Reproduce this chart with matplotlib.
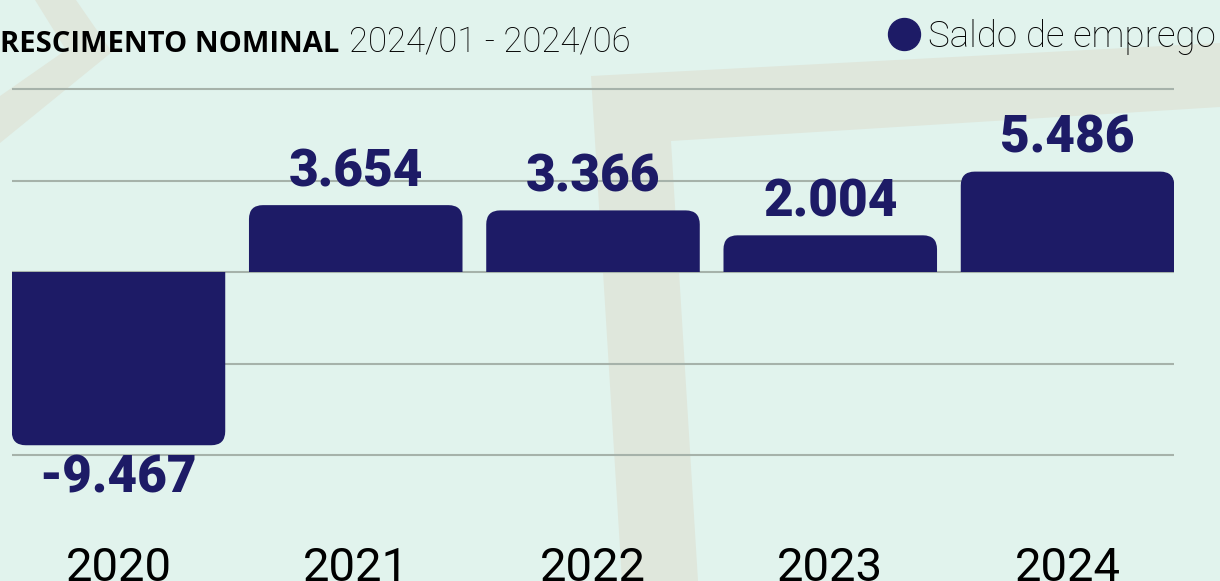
import matplotlib
matplotlib.use('agg')
import matplotlib.pyplot as plt
import numpy as np
from matplotlib.path import Path
from matplotlib.patches import PathPatch, Polygon
from matplotlib.lines import Line2D

years = ['2020', '2021', '2022', '2023', '2024']
saldo = [-9467, 3654, 3366, 2004, 5486]
labels = ['-9.467', '3.654', '3.366', '2.004', '5.486']
grid_vals = [-10000, -5000, 0, 5000, 10000]

W, H = 1220, 581
bg = '#e1f3ed'
beige = '#dfe7dc'
navy = '#1d1b66'
gridc = '#a6b2aa'

fig = plt.figure(figsize=(W / 100, H / 100), dpi=100, facecolor=bg)


def px(x, y):
	return (x / W, 1 - y / H)


# faint background shapes
band = [(591, 76), (1220, 43), (1220, 107), (671, 141), (698, 581), (622, 581)]
chev = [(35, 0), (76, 0), (112, 52), (0, 143), (0, 96), (66, 50)]
for shape in (band, chev):
	fig.add_artist(Polygon([px(*p) for p in shape], closed=True, transform=fig.transFigure,
						   facecolor=beige, edgecolor='none', zorder=-1))

# axes placed so zero sits at y=272 and 5000 ~ 91.5 px
ylo, yhi = -10500, 10500
ppu = 91.5 / 5000
top_px = 272 - yhi * ppu
bot_px = 272 - ylo * ppu
ax = fig.add_axes([11.7 / W, 1 - bot_px / H, (1174.3 - 11.7) / W, (bot_px - top_px) / H])
ax.set_facecolor('none')
ax.set_xlim(-0.45, len(years) - 0.55)
ax.set_ylim(ylo, yhi)
for s in ax.spines.values():
	s.set_visible(False)
ax.set_yticks([])

for g in grid_vals:
	ax.axhline(g, color=gridc, lw=1.5, zorder=1)

x = np.arange(len(years))
bw = 0.9
bb = ax.get_window_extent()
sx = bb.width / (ax.get_xlim()[1] - ax.get_xlim()[0])
sy = bb.height / (yhi - ylo)
r = 14


def rounded_bar(xc, h):
	x0, x1 = xc - bw / 2, xc + bw / 2
	rx = r / sx
	ry = min(r / sy, abs(h) / 2)
	s = np.sign(h)
	verts = [(x0, 0), (x0, h - s * ry), (x0, h), (x0 + rx, h), (x1 - rx, h),
			 (x1, h), (x1, h - s * ry), (x1, 0), (x0, 0)]
	codes = [Path.MOVETO, Path.LINETO, Path.CURVE3, Path.CURVE3, Path.LINETO,
			 Path.CURVE3, Path.CURVE3, Path.LINETO, Path.CLOSEPOLY]
	ax.add_patch(PathPatch(Path(verts, codes), facecolor=navy, edgecolor='none', zorder=2))


for xi, v, lab in zip(x, saldo, labels):
	rounded_bar(xi, v)
	off = 13.5 if v > 0 else -34
	ax.annotate(lab, xy=(xi, v), xytext=(0, off), textcoords='offset points',
				ha='center', va='baseline', color=navy, fontsize=37,
				fontfamily='Roboto', fontweight='black', annotation_clip=False)

ax.set_xticks(x, years)
ax.tick_params(axis='x', length=0, pad=84)
for t in ax.get_xticklabels():
	t.set_va('baseline')
	t.set_fontfamily('Roboto')
	t.set_fontsize(34)
	t.set_color('black')

# title, first char cut off by the left edge in the source
t1 = fig.text(0, 1 - 52 / H, 'RESCIMENTO NOMINAL', fontsize=21, fontweight='bold',
			  fontfamily='Open Sans', va='baseline', ha='left')
rend = fig.canvas.get_renderer()
e = t1.get_window_extent(rend)
fig.text((e.x1 + 10) / W, 1 - 52 / H, '2024/01 - 2024/06', fontsize=25,
		 fontfamily='Roboto', fontweight='light', va='baseline', ha='left')

h = Line2D([], [], marker='o', ls='', color=navy, markersize=23)
fig.legend([h], ['Saldo de emprego'], loc='upper right', bbox_to_anchor=(1216 / W, 1 - 19 / H),
		   frameon=False, handletextpad=0.15, borderpad=0, borderaxespad=0, handlelength=1.0,
		   prop={'family': 'Roboto', 'weight': 'light', 'size': 26.5})

fig.savefig('out.png', dpi=100, facecolor=bg)
